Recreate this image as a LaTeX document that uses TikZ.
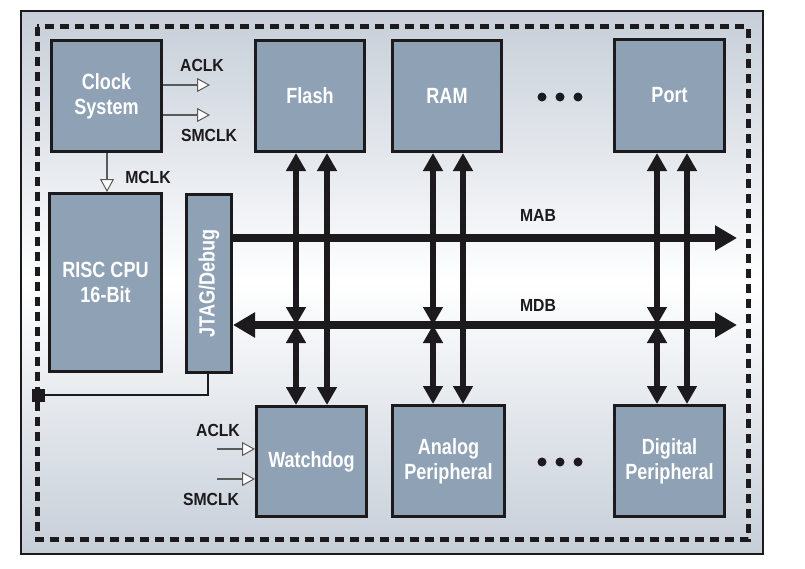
\documentclass[tikz,border=0pt]{standalone}
\usepackage{fontspec}
\setmainfont{Liberation Sans}[FakeStretch=0.9]
\newfontfamily\boxfont{Liberation Sans}[FakeStretch=0.82]
\usetikzlibrary{arrows.meta}
\definecolor{boxfill}{RGB}{143,161,181}
\definecolor{boxline}{RGB}{28,26,28}
\definecolor{panelg}{RGB}{198,206,216}
\definecolor{clkline}{RGB}{90,90,90}
\tikzset{
  blk/.style={draw=boxline, fill=boxfill, line width=3pt, inner sep=0pt,
    text=white, font=\boxfont\fontsize{22}{25}\selectfont\bfseries, align=center},
  lbl/.style={font=\fontsize{17.5}{20}\selectfont\bfseries, text=boxline, inner sep=0pt},
  bus/.style={line width=8pt, draw=boxline, {Triangle[length=22pt,width=24pt]}-{Triangle[length=22pt,width=24pt]}},
  busr/.style={line width=8pt, draw=boxline, -{Triangle[length=22pt,width=24pt]}},
  vbus/.style={line width=6.5pt, draw=boxline, {Triangle[length=18pt,width=19pt]}-{Triangle[length=18pt,width=19pt]}},
  clk/.style={line width=1.5pt, draw=clkline, -{Triangle[open,length=13pt,width=14pt,fill=white,line width=1pt]}},
  dot/.style={circle, fill=boxline, minimum size=9pt, inner sep=0pt},
}
\begin{document}
\begin{tikzpicture}[x=1pt,y=-1pt]
\useasboundingbox (0,0) rectangle (805,568);
\fill[white] (0,0) rectangle (805,568);
% panel
\shade[top color=panelg, bottom color=panelg, middle color=white] (21,11) rectangle (763,554);
\draw[line width=1.5pt, draw=boxline] (21,11) rectangle (763,554);
\draw[line width=5pt, draw=boxline, dash pattern=on 9pt off 6pt] (37,26.5) rectangle (748,539);

% blocks
\node[blk, minimum width=110, minimum height=111] (clock) at (106.5,96) {Clock\\System};
\node[blk, minimum width=109, minimum height=111] (flash) at (310,96) {Flash};
\node[blk, minimum width=109, minimum height=111] (ram) at (447,96) {RAM};
\node[blk, minimum width=110, minimum height=112] (port) at (669.5,95.5) {Port};
\node[blk, minimum width=112, minimum height=178] (risc) at (105.5,282.5) {RISC CPU\\16-Bit};
\node[blk, minimum width=45, minimum height=178] (jtag) at (209,283.5) {};
\node[font=\boxfont\fontsize{22}{25}\selectfont\bfseries, text=white, rotate=90] (jtagt) at (jtag.center) {JTAG/Debug};
\node[blk, minimum width=110, minimum height=110] (wd) at (311.5,461.5) {Watchdog};
\node[blk, minimum width=112, minimum height=111] (ana) at (448.5,461) {Analog\\Peripheral};
\node[blk, minimum width=110, minimum height=111] (dig) at (669.5,461) {Digital\\Peripheral};

% dots
\node[dot] (d1) at (542,97) {};
\node[dot] (d2) at (560,97) {};
\node[dot] (d3) at (578,97) {};
\node[dot] (d4) at (542,462) {};
\node[dot] (d5) at (560,462) {};
\node[dot] (d6) at (578,462) {};

% buses
\coordinate (mabE) at (737,238);
\coordinate (mdbE) at (737,325);
\draw[busr] (jtag.east |- mabE) -- (mabE);
\draw[bus] (jtag.east |- mdbE) -- (mdbE);
\node[lbl] (mab) at (538,215) {MAB};
\node[lbl] (mdb) at (538,305) {MDB};

% vertical connections
\coordinate (f1) at (296,325); \coordinate (f2) at (327,325);
\coordinate (r1) at (433,325); \coordinate (r2) at (463,325);
\coordinate (p1) at (657,325); \coordinate (p2) at (687,325);
\draw[vbus] (flash.south -| f1) -- (f1);
\draw[vbus] (f1) -- (wd.north -| f1);
\draw[vbus] (flash.south -| f2) -- (wd.north -| f2);
\draw[vbus] (ram.south -| r1) -- (r1);
\draw[vbus] (r1) -- (ana.north -| r1);
\draw[vbus] (ram.south -| r2) -- (ana.north -| r2);
\draw[vbus] (port.south -| p1) -- (p1);
\draw[vbus] (p1) -- (dig.north -| p1);
\draw[vbus] (port.south -| p2) -- (dig.north -| p2);

% clocks
\coordinate (ca) at (210,85);
\coordinate (cs) at (210,115);
\draw[clk] (clock.east |- ca) -- (ca);
\draw[clk] (clock.east |- cs) -- (cs);
\node[lbl] (aclk1) at (202,65) {ACLK};
\node[lbl] (smclk1) at (209,135) {SMCLK};
\draw[clk] (clock.south -| 107,0) -- (risc.north -| 107,0);
\node[lbl] (mclk) at (148,177) {MCLK};
\coordinate (wa) at (217,449);
\coordinate (ws) at (217,479);
\draw[clk] (wa) -- (wd.west |- wa);
\draw[clk] (ws) -- (wd.west |- ws);
\node[lbl] (aclk2) at (218,430) {ACLK};
\node[lbl] (smclk2) at (211,499) {SMCLK};

% JTAG link
\node[fill=boxline, minimum size=13pt, inner sep=0pt] (sq) at (38,395) {};
\draw[line width=2pt, draw=boxline] (jtag.south -| 208,0) |- (sq);
\end{tikzpicture}
\end{document}
